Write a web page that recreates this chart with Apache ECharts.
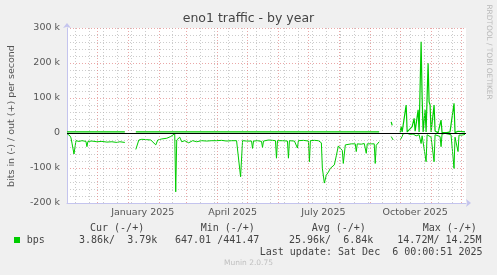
<!DOCTYPE html>
<html>
<head>
<meta charset="utf-8">
<script src="https://cdn.jsdelivr.net/npm/echarts@6/dist/echarts.min.js"></script>
<style>
html,body{margin:0;padding:0;background:#f0f0f0;}
#c{width:497px;height:275px;}
</style>
</head>
<body>
<div id="c"></div>
<script>
// ---- data (x = days since 2024-11-01, y = bits per second) ----
const inDays = [0,3,4,5,7,9,12,15,19,20,21,25,30,35,40,45,50,53,58,63,
  69,72,75,80,81,84,89,91,95,100,104,106,108,109,110,113,115,118,122,126,130,135,140,145,150,155,160,165,170,172,174,176,180,185,186,187,191,195,196,197,202,204,206,209,210,211,216,221,222,223,228,231,232,237,242,243,244,248,252,254,255,256,258,260,262,264,266,268,270,272,274,276,277,279,281,285,289,290,291,295,298,300,301,305,308,309,310,311,313,318,
  325,327,330,
  334,336,337,339,341,344,347,350,353,355,356,358,360,361,363,365,368,369,371,374,375,376,379,382,385,387,388,389,390,392,393,396,399];
const inVals = [-2000,-8000,-14000,-29000,-60000,-22000,-24000,-22000,-24000,-39000,-24000,-23000,-25000,-24000,-26000,-25000,-27000,-25000,-27000,null,
  -47000,-20000,-18000,-19000,-23000,-20000,-34000,-20000,-17000,-15000,-10000,-12000,-2000,-168000,-20000,-12000,-25000,-22000,-28000,-22000,-25000,-22000,-23000,-22000,-22000,-21000,-23000,-22000,-22000,-25000,-125000,-22000,-23000,-23000,-44000,-23000,-22000,-24000,-41000,-23000,-20000,-15000,-21000,-22000,-72000,-22000,-22000,-23000,-72000,-22000,-23000,-43000,-22000,-21000,-23000,-82000,-22000,-21000,-22000,-23000,-28000,-101000,-143000,-120000,-112000,-101000,-98000,-91000,-65000,-37000,-38000,-50000,-87000,-34000,-31000,-31000,-31000,-53000,-31000,-32000,-30000,-58000,-31000,-31000,-31000,-87000,-35000,-31000,-25000,null,
  -10000,-20000,null,
  -20000,-10000,-2000,-6000,-1000,-4000,-3000,-8000,-5000,-30000,-8000,-3000,-82000,-5000,-8000,-12000,-82000,-5000,-7000,-10000,-39000,-3000,-1000,-3000,-5000,-6000,-101000,-12000,-15000,-53000,-6000,-6000,-4000];

const outDays = [0,15,30,45,58,63,69,90,108,109,110,140,170,200,230,260,290,313,318,
  325,326,330,
  334,335,336,340,341,343,346,348,349,352,353,355,356,357,358,359,360,362,363,364,365,366,368,369,370,372,374,375,376,378,381,384,388,389,390,392,394,399];
const outVals = [3000,3500,3000,3200,3000,null,3000,3300,3000,7000,3000,3200,3000,3300,3000,3200,3000,3000,null,
  32000,22000,null,
  2000,18000,3000,80000,3000,6000,18000,42000,5000,66000,3000,261000,104000,3000,6000,66000,3000,199000,89000,80000,3000,6000,80000,6000,3000,1000,5000,37000,1000,3000,1000,3000,85000,1000,3000,5000,1000,3000];

const monthStartDays = [30,61,92,120,151,181,212,242,273,304,334,365,395];
const minorGridDays = [8,22,36,50,64,78,106,134,148,162,176,190,204,218,232,246,260,274,288,302,316,330,344,358,372,386];
const xLabelDays = [76,166,257,349];
const xLabelTexts = ['January 2025','April 2025','July 2025','October 2025'];

const legendHeaders = ['Cur (-/+)','Min (-/+)','Avg (-/+)','Max (-/+)'];
const legendValues = ['3.86k/  3.79k','647.01 /441.47','25.96k/  6.84k','14.72M/ 14.25M'];
const seriesName = 'bps';
const lastUpdate = 'Last update: Sat Dec  6 00:00:51 2025';

function zip(a,b){return a.map((d,i)=>[d,b[i]]);}

const chart = echarts.init(document.getElementById('c'), null, {renderer:'canvas'});
const GREEN = '#00cc00';
const GREY = 'rgba(170,170,170,0.6)';
const RED = 'rgba(225,130,130,0.7)';
const AXIS = '#c4c4ee';
const SANS = '"DejaVu Sans", sans-serif';
const MONO = '"DejaVu Sans Mono", monospace';

const headerX = [90,200.7,311.7,422.7];
const valueX = [79,175,289,397.3];

const graphics = [
  {type:'text', x:12, y:116, rotation:Math.PI/2, silent:true,
   style:{text:'bits in (-) / out (+) per second', font:'9.5px '+SANS, fill:'#555', align:'center', verticalAlign:'middle'}},
  {type:'text', x:488.5, y:52, rotation:-Math.PI/2, silent:true,
   style:{text:'RRDTOOL / TOBI OETIKER', font:'7.4px '+SANS, fill:'#b8b8b8', align:'center', verticalAlign:'middle'}},
  {type:'rect', shape:{x:14, y:237, width:6, height:6}, style:{fill:GREEN}, silent:true},
  {type:'text', x:26.7, y:240.5, silent:true, style:{text:seriesName, font:'10px '+MONO, fill:'#444', align:'left', verticalAlign:'middle'}},
  {type:'text', x:482.5, y:252.5, silent:true, style:{text:lastUpdate, font:'10px '+MONO, fill:'#444', align:'right', verticalAlign:'middle'}},
  {type:'text', x:248.5, y:263.5, silent:true, style:{text:'Munin 2.0.75', font:'7.5px '+SANS, fill:'#c0c0c0', align:'center', verticalAlign:'middle'}}
];
legendHeaders.forEach((t,i)=>graphics.push({type:'text', x:headerX[i], y:228, silent:true,
  style:{text:t, font:'10px '+MONO, fill:'#444', align:'left', verticalAlign:'middle'}}));
legendValues.forEach((t,i)=>graphics.push({type:'text', x:valueX[i], y:240.5, silent:true,
  style:{text:t, font:'10px '+MONO, fill:'#444', align:'left', verticalAlign:'middle'}}));

const option = {
  animation:false,
  backgroundColor:'#f0f0f0',
  title:{text:'eno1 traffic - by year', left:'center', top:7,
    textStyle:{fontSize:12.5, fontWeight:'normal', color:'#444', fontFamily:SANS}},
  grid:{left:67, right:31, top:28, bottom:72, show:true, backgroundColor:'#ffffff', borderWidth:0},
  xAxis:{type:'value', min:0, max:400,
    axisLine:{show:true, onZero:false, lineStyle:{color:AXIS, width:1}, symbol:['none','arrow'], symbolSize:[6,5], symbolOffset:[0,5]},
    axisTick:{show:false},
    splitLine:{show:false},
    axisLabel:{customValues:xLabelDays, margin:5, fontSize:9.5, fontFamily:SANS, color:'#555',
      formatter:(v)=>{const i=xLabelDays.indexOf(v); return i>=0?xLabelTexts[i]:'';}}
  },
  yAxis:{type:'value', min:-200000, max:300000, interval:20000,
    axisLine:{show:true, lineStyle:{color:AXIS, width:1}, symbol:['none','arrow'], symbolSize:[6,5], symbolOffset:[0,5]},
    axisTick:{show:false},
    splitLine:{show:true, showMinLine:true, showMaxLine:true, lineStyle:{color:[RED,GREY,GREY,GREY,GREY], type:[1,2], width:1}},
    axisLabel:{margin:7, fontSize:9.5, fontFamily:SANS, color:'#555',
      formatter:(v)=>{ if (v % 100000 !== 0) return ''; return v===0 ? '0' : (v/1000)+' k'; }}
  },
  graphic:graphics,
  series:[
    {type:'line', data:[], z:1, silent:true,
     markLine:{silent:true, symbol:['none','none'], label:{show:false}, animation:false,
       data:minorGridDays.map(d=>({xAxis:d, lineStyle:{color:GREY, type:[1,2], width:1}}))
         .concat(monthStartDays.map(d=>({xAxis:d, lineStyle:{color:RED, type:[1,2], width:1}})))}},
    {name:'in', type:'line', data:zip(inDays,inVals), showSymbol:false, connectNulls:false, z:2,
     lineStyle:{color:GREEN, width:1}, itemStyle:{color:GREEN}},
    {name:'out', type:'line', data:zip(outDays,outVals), showSymbol:false, connectNulls:false, z:2,
     lineStyle:{color:GREEN, width:1.2}, itemStyle:{color:GREEN}},
    {type:'line', data:[], z:3, silent:true,
     markLine:{silent:true, symbol:['none','none'], label:{show:false}, animation:false,
       data:[{yAxis:0, lineStyle:{color:'#000', type:'solid', width:1}}]}}
  ]
};
chart.setOption(option);
</script>
</body>
</html>
